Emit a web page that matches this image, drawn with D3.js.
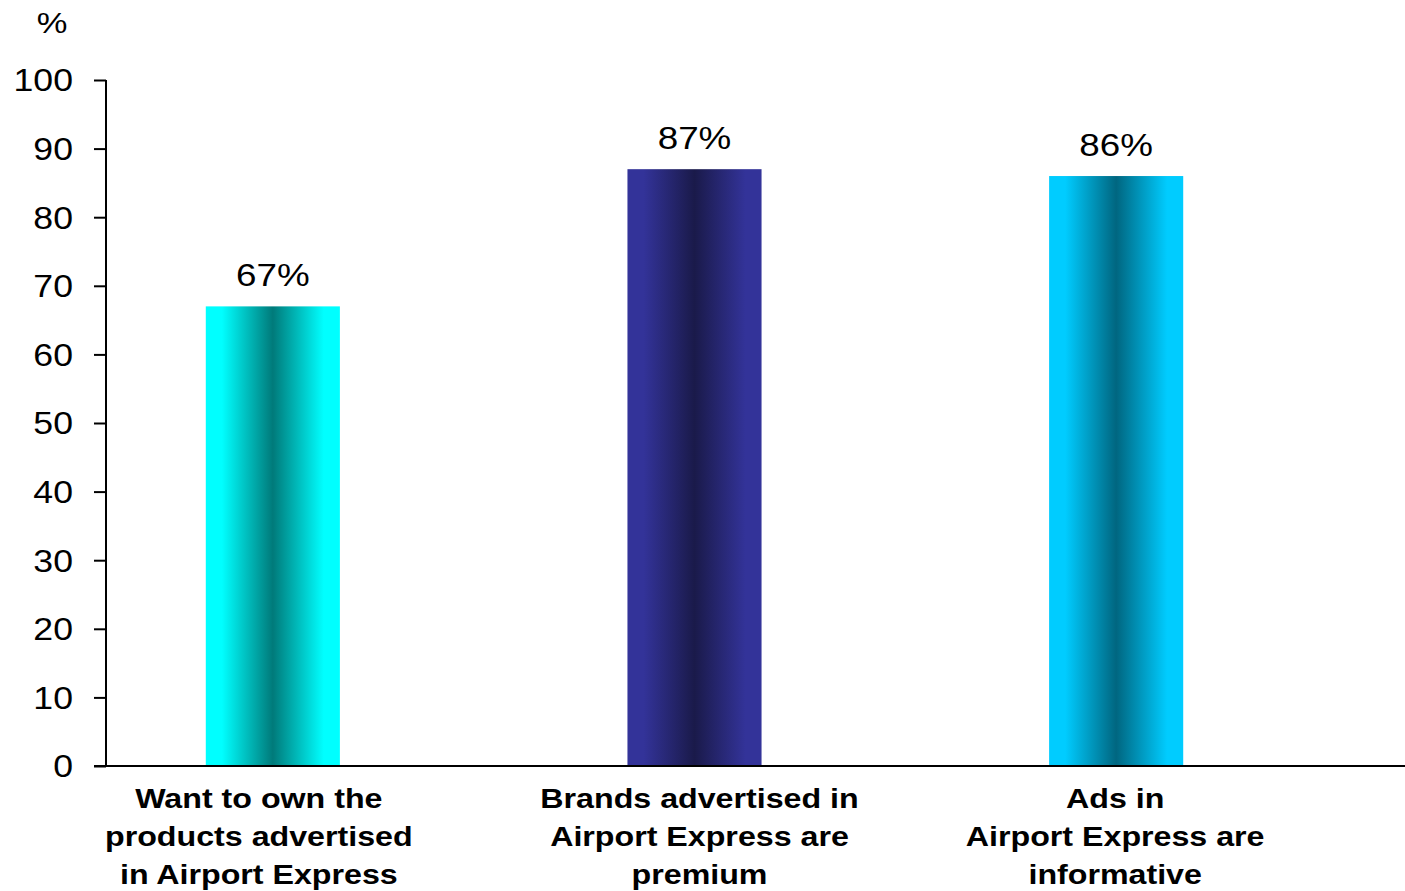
<!DOCTYPE html>
<html lang="en">
<head>
    <meta charset="utf-8">
    <title>Airport Express ads</title>
    <style>
        body { margin: 0; background: #fff; }
        svg { display: block; font-family: "Liberation Sans", Arial, sans-serif; }
    </style>
</head>
<body>
<script src="https://cdn.jsdelivr.net/npm/d3@7"></script>
<script>
    // values
    const categories = [
        ["Want to own the", "products advertised", "in Airport Express"],
        ["Brands advertised in", "Airport Express are", "premium"],
        ["Ads in", "Airport Express are", "informative"]
    ];
    const values = [67, 87, 86];
    const yTicks = [0, 10, 20, 30, 40, 50, 60, 70, 80, 90, 100];
    // edge colour / centre colour of each bar's gradient
    const edgeColors = ["#00ffff", "#333399", "#00ccff"];
    const centerColors = ["#007a7a", "#1a1a4a", "#006680"];
    const labelShift = [-14, 5, -1]; // category labels are not quite centred on bars

    const width = 1405, height = 891;
    const stretch = 1.15; // original text is drawn a bit wide

    const svg = d3.select("body").append("svg")
        .attr("width", width)
        .attr("height", height);

    // put text at (x,y) with a horizontal stretch
    function place(sel, fx, fy) {
        sel.attr("transform", (d, i) => `translate(${fx(d, i)},${fy(d, i)}) scale(${stretch},1)`)
            .attr("x", 0).attr("y", 0);
    }

    const defs = svg.append("defs");
    values.forEach((v, i) => {
        const g = defs.append("linearGradient")
            .attr("id", "grad" + i)
            .attr("x1", "0%").attr("x2", "100%")
            .attr("y1", "0%").attr("y2", "0%");
        [[0, edgeColors[i]], [0.12, edgeColors[i]], [0.5, centerColors[i]],
         [0.88, edgeColors[i]], [1, edgeColors[i]]].forEach(([o, c]) => {
            g.append("stop").attr("offset", o).attr("stop-color", c);
        });
    });

    const y = d3.scaleLinear().domain([0, 100]).range([766, 80]);
    const x = d3.scaleBand()
        .domain(d3.range(values.length))
        .range([62, 1327])
        .paddingInner(0.682)
        .paddingOuter(0.341);

    // bars
    svg.append("g")
        .selectAll("rect")
        .data(values)
        .join("rect")
        .attr("x", (d, i) => x(i))
        .attr("y", d => y(d))
        .attr("width", x.bandwidth())
        .attr("height", d => y(0) - y(d))
        .attr("fill", (d, i) => `url(#grad${i})`);

    // value labels
    svg.append("g")
        .selectAll("text")
        .data(values)
        .join("text")
        .attr("text-anchor", "middle")
        .attr("font-size", 32)
        .attr("fill", "#000")
        .text(d => d + "%")
        .call(place, (d, i) => x(i) + x.bandwidth() / 2, d => y(d) - 20);

    // y axis
    const yAxis = svg.append("g")
        .attr("transform", "translate(106,0)")
        .call(d3.axisLeft(y).tickValues(yTicks).tickSize(12));
    yAxis.select(".domain").attr("stroke", "#000").attr("stroke-width", 2)
        .attr("d", `M0,${y(100)}V${y(0)}`);
    yAxis.selectAll(".tick line").attr("stroke", "#000").attr("stroke-width", 2);
    yAxis.selectAll(".tick text")
        .attr("font-size", 31)
        .attr("font-family", "Liberation Sans, Arial, sans-serif")
        .attr("fill", "#000")
        .attr("dy", "0.35em")
        .call(place, () => -33, () => 0);

    // x axis line
    svg.append("line")
        .attr("x1", 94).attr("x2", width)
        .attr("y1", y(0)).attr("y2", y(0))
        .attr("stroke", "#000").attr("stroke-width", 2);

    // unit label
    svg.append("text")
        .attr("text-anchor", "middle")
        .attr("font-size", 30)
        .text("%")
        .call(place, () => 52, () => 33);

    // category labels
    const cat = svg.append("g")
        .selectAll("text")
        .data(categories)
        .join("text")
        .attr("text-anchor", "middle")
        .attr("font-size", 28)
        .attr("font-weight", "bold")
        .attr("fill", "#000")
        .call(place, (d, i) => x(i) + x.bandwidth() / 2 + labelShift[i], () => 808);
    cat.selectAll("tspan")
        .data(d => d)
        .join("tspan")
        .attr("x", 0)
        .attr("y", (d, j) => j * 38)
        .text(d => d);
</script>
</body>
</html>
